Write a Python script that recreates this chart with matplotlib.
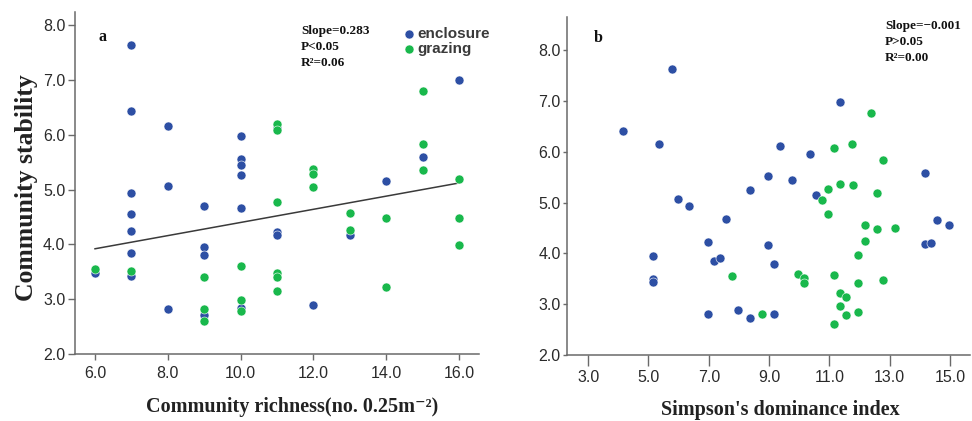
import matplotlib
matplotlib.use("Agg")
import matplotlib.pyplot as plt

# ---------------- data ----------------
# Panel a: community richness vs stability
a_enc_x = [6, 7, 7, 7, 7, 7, 7, 7, 8, 8, 8, 9, 9, 9, 9, 10, 10, 10, 10, 10, 10, 11, 11, 11, 12, 13, 14, 15, 16]
a_enc_y = [3.48, 7.64, 6.43, 4.93, 4.56, 4.24, 3.85, 3.42, 6.16, 5.07, 2.82, 4.70, 3.95, 3.81, 2.72,
           5.98, 5.55, 5.44, 5.26, 4.67, 2.84, 6.12, 4.23, 4.17, 2.89, 4.18, 5.16, 5.59, 7.00]
a_gra_x = [6, 7, 9, 9, 9, 10, 10, 10, 11, 11, 11, 11, 11, 11, 12, 12, 12, 13, 13, 14, 14, 15, 15, 15, 16, 16, 16]
a_gra_y = [3.56, 3.51, 3.41, 2.82, 2.60, 3.61, 2.98, 2.78, 6.19, 6.09, 4.78, 3.48, 3.41, 3.15,
           5.38, 5.28, 5.05, 4.57, 4.26, 4.49, 3.23, 6.79, 5.84, 5.36, 5.19, 4.49, 3.98]
a_fit_x = [6, 16]
a_fit_y = [3.92, 5.12]

# Panel b: Simpson's dominance index vs stability
b_enc_x = [5.77, 4.16, 5.36, 11.35, 9.36, 10.37, 14.16, 8.96, 9.77, 8.38, 10.56, 5.97, 6.36, 7.56, 14.57,
           14.98, 14.16, 14.37, 6.97, 8.96, 5.16, 7.16, 7.36, 9.16, 5.16, 5.16, 6.97, 7.96, 8.36, 9.16]
b_enc_y = [7.62, 6.41, 6.15, 6.98, 6.11, 5.96, 5.58, 5.53, 5.44, 5.25, 5.15, 5.06, 4.93, 4.68, 4.66,
           4.55, 4.18, 4.21, 4.23, 4.16, 3.94, 3.84, 3.91, 3.80, 3.50, 3.43, 2.81, 2.89, 2.73, 2.81]
b_gra_x = [12.37, 11.16, 11.76, 12.77, 11.36, 11.77, 10.96, 12.57, 10.76, 10.96, 12.17, 12.57, 13.17, 12.17,
           11.96, 7.77, 9.97, 10.17, 10.17, 11.16, 11.96, 12.77, 11.36, 11.56, 11.36, 11.96, 11.56, 11.16, 8.76]
b_gra_y = [6.77, 6.08, 6.16, 5.83, 5.36, 5.35, 5.27, 5.18, 5.05, 4.77, 4.55, 4.48, 4.49, 4.25,
           3.97, 3.56, 3.60, 3.52, 3.41, 3.57, 3.41, 3.47, 3.22, 3.15, 2.97, 2.85, 2.79, 2.61, 2.81]

a_xticks = [6, 8, 10, 12, 14, 16]
b_xticks = [3, 5, 7, 9, 11, 13, 15]
yticks_a = [2, 3, 4, 5, 6, 7, 8]
yticks_b = [2, 3, 4, 5, 6, 7, 8]
stats_a = "Slope=0.283\nP<0.05\nR²=0.06"
stats_b = "Slope=\u22120.001\nP>0.05\nR²=0.00"
series_labels = ["enclosure", "grazing"]

# ---------------- style ----------------
BLUE = "#2d4fa4"
GREEN = "#19b84c"
SPINE = "#6a6a6a"
TXT = "#2a2a2a"
W, H = 972, 421

fig = plt.figure(figsize=(W / 100, H / 100), dpi=100)

def fig_rect(l, r, t, b):
    return [l / W, 1 - b / H, (r - l) / W, (b - t) / H]

axa = fig.add_axes(fig_rect(75, 479, 12, 354))
axb = fig.add_axes(fig_rect(567, 970, 17, 355))

sans = ["Liberation Sans", "DejaVu Sans"]
serif = ["Liberation Serif", "DejaVu Serif"]
TICK_FS = 11.5

for ax in (axa, axb):
    for s in ("top", "right"):
        ax.spines[s].set_visible(False)
    for s in ("left", "bottom"):
        ax.spines[s].set_color(SPINE)
        ax.spines[s].set_linewidth(1.1)

# Panel a
axa.scatter(a_enc_x, a_enc_y, s=42, color=BLUE, edgecolors="white", linewidths=0.4,
            label=series_labels[0], zorder=3)
axa.scatter(a_gra_x, a_gra_y, s=42, color=GREEN, edgecolors="white", linewidths=0.4,
            label=series_labels[1], zorder=4)
axa.plot(a_fit_x, a_fit_y, color="#3a3a3a", lw=1.1, zorder=2)
axa.set_xlim(5.45, 16.55)
axa.set_ylim(2.0, 8.24)
axa.set_xticks(a_xticks)
axa.set_xticklabels([f"{v:.1f}" for v in a_xticks])
axa.set_yticks(yticks_a)
axa.set_yticklabels([f"{v:.1f}" for v in yticks_a])
axa.tick_params(axis="x", length=4, width=1.0, color=SPINE, pad=5, labelsize=TICK_FS, labelcolor=TXT)
axa.tick_params(axis="y", length=5, width=1.0, color=SPINE, pad=2, labelsize=TICK_FS, labelcolor=TXT)

axa.text(98 / W, 1 - 37 / H, "a", transform=fig.transFigure, fontsize=11.5, fontweight="bold",
         family=serif, va="center", ha="left", color="#111")
axa.text(301 / W, 1 - 25 / H, stats_a, transform=fig.transFigure, fontsize=9.5,
         fontweight="bold", family=serif, va="top", ha="left", linespacing=1.45, color="#111")
leg = axa.legend(loc="upper left", bbox_to_anchor=(397 / W, 1 - 19 / H),
                 bbox_transform=fig.transFigure, frameon=False, borderpad=0,
                 handlelength=0.6, handletextpad=0.25, labelspacing=0.1,
                 prop={"family": sans, "size": 11, "weight": "bold"}, markerscale=1.0)
for t in leg.get_texts():
    t.set_color("#3a3a3a")

# Panel b
axb.scatter(b_enc_x, b_enc_y, s=42, color=BLUE, edgecolors="white", linewidths=0.4, zorder=3)
axb.scatter(b_gra_x, b_gra_y, s=42, color=GREEN, edgecolors="white", linewidths=0.4, zorder=4)
axb.set_xlim(2.30, 15.66)
axb.set_ylim(2.0, 8.65)
axb.set_xticks(b_xticks)
axb.set_xticklabels([f"{v:.1f}" for v in b_xticks])
axb.set_yticks(yticks_b)
axb.set_yticklabels([f"{v:.1f}" for v in yticks_b])
axb.tick_params(axis="x", length=8, width=1.0, color=SPINE, pad=3, labelsize=TICK_FS, labelcolor=TXT)
axb.tick_params(axis="y", length=3, width=1.0, color=SPINE, pad=1.5, labelsize=TICK_FS, labelcolor=TXT)

for ax in (axa, axb):
    for lab in ax.get_xticklabels() + ax.get_yticklabels():
        lab.set_family(sans)

axb.text(594 / W, 1 - 38 / H, "b", transform=fig.transFigure, fontsize=11.5, fontweight="bold",
         family=serif, va="center", ha="left", color="#111")
axb.text(885 / W, 1 - 20 / H, stats_b, transform=fig.transFigure, fontsize=9.5,
         fontweight="bold", family=serif, va="top", ha="left", linespacing=1.45, color="#111")

# Axis titles
fig.text(27 / W, 1 - 188 / H, "Community stability", rotation=90, ha="center", va="center",
         fontsize=18.5, fontweight="bold", family=serif, color="#222")
fig.text(292 / W, 1 - 407 / H, "Community richness(no. 0.25m\u207b\u00b2)", ha="center", va="center",
         fontsize=14.5, fontweight="bold", family=serif, color="#222")
fig.text(780 / W, 1 - 410 / H, "Simpson's dominance index", ha="center", va="center",
         fontsize=14.5, fontweight="bold", family=serif, color="#222")

fig.savefig("out.png", dpi=100, facecolor="white")
